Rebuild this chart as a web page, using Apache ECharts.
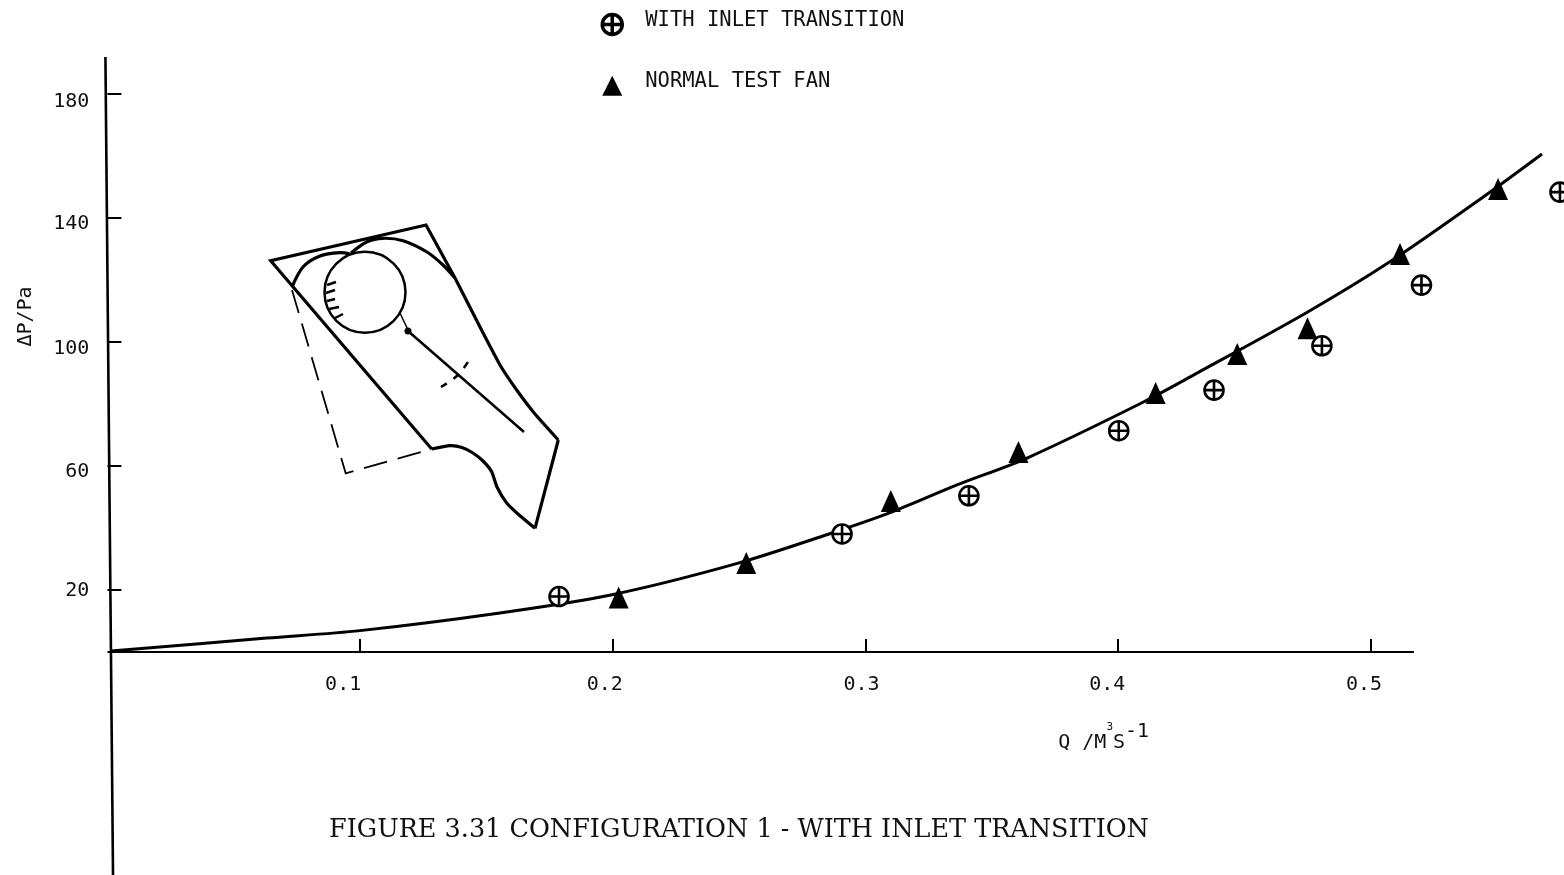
<!DOCTYPE html>
<html><head><meta charset="utf-8">
<style>html,body{margin:0;padding:0;background:#fff}#c{width:1564px;height:875px}</style>
<script src="https://cdn.jsdelivr.net/npm/echarts@6/dist/echarts.min.js"></script>
</head><body><div id="c"></div>
<script>
const xTicks=[0.1,0.2,0.3,0.4,0.5];
const yTicks=[20,60,100,140,180];
const inletQ=[0.1787,0.2907,0.3409,0.4002,0.4379,0.4806,0.5200,0.5748];
const inletP=[17.9,38.1,50.4,71.4,84.5,98.8,118.4,148.4];
const normalQ=[0.2023,0.2528,0.3100,0.3605,0.4148,0.4471,0.4749,0.5115,0.5503];
const normalP=[17.6,28.7,48.7,64.5,83.6,96.2,104.5,128.4,149.4];
const curveQ=[0.0014,0.0631,0.0999,0.1553,0.1992,0.2493,0.2867,0.3108,0.3362,0.3639,0.4098,0.4312,0.4743,0.5075,0.5439,0.5677];
const curveP=[0.3,4.5,6.9,12.6,18.4,28.6,38.4,45.3,53.9,62.6,80.6,90,109.4,125.9,146.5,160.7];
const yAxisQ=[-0.0008,0.0022];
const yAxisP=[192,-72];
const xAxisQ=[0,0.517];
const xAxisP=[0,0];
const seriesNames=['WITH INLET TRANSITION','NORMAL TEST FAN'];
const caption='FIGURE 3.31 CONFIGURATION 1 - WITH INLET TRANSITION';
const zip=(a,b)=>a.map((v,i)=>[v,b[i]]);
const MONO='"DejaVu Sans Mono","Liberation Mono",monospace';
const crossCircle='path://M10 0A10 10 0 1 1 9.99 0ZM0 10L20 10M10 0L10 20';
const xShift={0.1:34,0.2:16,0.3:8,0.4:22,0.5:14};
const yShift={20:2,60:12,100:14,140:12,180:16};
const xRich={},yRich={};
xTicks.forEach((t,i)=>xRich['x'+i]={padding:[0,xShift[t],0,0],fontFamily:MONO,fontSize:20,color:'#111'});
yTicks.forEach((t,i)=>yRich['y'+i]={padding:[yShift[t],0,0,0],fontFamily:MONO,fontSize:20,color:'#111'});
const ink={stroke:'#000',fill:'none',lineWidth:3.2};
const thin={stroke:'#000',fill:'none',lineWidth:2.5};
const pl=(points,style,smooth)=>({type:'polyline',silent:true,shape:{points,smooth:smooth||0},style});
const ln=(x1,y1,x2,y2,style)=>({type:'line',silent:true,shape:{x1,y1,x2,y2},style});
const inset=[
 pl([[455,278],[426,225],[270.7,260.7],[431.7,449]],ink),
 pl([[455,278],[480,327],[500,365],[516.7,390],[535,414],[558.3,440]],ink,0.15),
 pl([[558.3,440],[535,528.3]],ink),
 pl([[535,528.3],[518,514],[506.7,503],[497,487],[491.7,471.7],[483,461],[473,453],[462,447.5],[450,445.7],[431.7,449]],ink,0.2),
 pl([[292,287],[303,267],[320,256],[340,252.7],[350,254]],ink,0.3),
 pl([[351,253],[367,241.7],[383,238.3],[403,240.7],[427,252],[443,265],[455,278]],ink,0.3),
 {type:'circle',silent:true,shape:{cx:365,cy:292.3,r:40.5},style:thin},
 ln(327,285,336,282,thin),
 ln(326,293,335,290,thin),
 ln(327,301,335,299,thin),
 ln(329,309,339,307,thin),
 ln(335,318,343,314,thin),
 ln(400,313,408,330,{stroke:'#000',lineWidth:1.5}),
 {type:'circle',silent:true,shape:{cx:408,cy:331,r:3.5},style:{fill:'#000'}},
 ln(408,331,524,432,thin),
 pl([[441,387],[458,375],[472,356]],{stroke:'#000',fill:'none',lineWidth:2.5,lineDash:[7,8]},0.3),
 pl([[292,290],[345.7,473.3],[431.7,449]],{stroke:'#000',fill:'none',lineWidth:1.8,lineDash:[24,11]})
];
const chart=echarts.init(document.getElementById('c'),null,{renderer:'canvas'});
chart.setOption({
 animation:false,
 backgroundColor:'#fff',
 title:{text:caption,left:324,top:812,textStyle:{fontFamily:'"DejaVu Serif",serif',fontSize:25.5,fontWeight:'normal',color:'#111'}},
 legend:{orient:'vertical',left:595.5,top:5,itemWidth:20,itemHeight:20,itemGap:35,
  formatter:n=>`{t|${n}}`,
  textStyle:{rich:{t:{fontFamily:MONO,fontSize:20.5,color:'#111',padding:[0,0,8,18]}}},
  data:[{name:seriesNames[0],icon:crossCircle,itemStyle:{color:'#fff',opacity:1,borderColor:'#000',borderWidth:3.5}},
        {name:seriesNames[1],icon:'triangle',itemStyle:{color:'#000',opacity:1,borderWidth:0}}]},
 grid:{left:102.4,top:57,width:1461.6,height:595,outerBoundsMode:'none',containLabel:false},
 xAxis:{type:'value',min:-0.002,max:0.5764,splitLine:{show:false},
  axisLine:{show:false},
  axisTick:{show:true,inside:true,length:13,customValues:xTicks,lineStyle:{color:'#000',width:2}},
  axisLabel:{customValues:xTicks,margin:23,hideOverlap:false,formatter:v=>`{x${xTicks.findIndex(t=>Math.abs(t-v)<1e-6)}|${v.toFixed(1)}}`,rich:xRich},
  name:'{a|Q /M}{b|3}{a|S}{c|-1}',nameLocation:'middle',nameGap:70,
  nameTextStyle:{padding:[0,0,0,541],rich:{a:{fontFamily:MONO,fontSize:20,color:'#111'},b:{fontFamily:MONO,fontSize:11,color:'#111',verticalAlign:'top'},c:{fontFamily:MONO,fontSize:20,color:'#111',verticalAlign:'top',padding:[0,0,22,0]}}}},
 yAxis:{type:'value',min:0,max:192,offset:-5,splitLine:{show:false},
  axisLine:{show:false},
  axisTick:{show:true,inside:true,length:14,customValues:yTicks,lineStyle:{color:'#000',width:2}},
  axisLabel:{customValues:yTicks,margin:18,formatter:v=>`{y${yTicks.indexOf(v)}|${v}}`,rich:yRich},
  name:'ΔP/Pa',nameLocation:'middle',nameRotate:90,nameGap:72,
  nameTextStyle:{fontFamily:MONO,fontSize:20,color:'#111',padding:[0,0,0,76]}},
 graphic:inset,
 series:[
  {name:'y axis line',type:'line',data:zip(yAxisQ,yAxisP),symbol:'none',clip:false,silent:true,lineStyle:{color:'#000',width:2.6},z:1},
  {name:'x axis line',type:'line',data:zip(xAxisQ,xAxisP),symbol:'none',clip:false,silent:true,lineStyle:{color:'#000',width:2},z:1},
  {name:'fitted curve',type:'line',data:zip(curveQ,curveP),symbol:'none',smooth:0.3,clip:false,silent:true,lineStyle:{color:'#000',width:3},z:2},
  {name:seriesNames[0],type:'scatter',data:zip(inletQ,inletP),symbol:crossCircle,symbolSize:19,clip:false,itemStyle:{color:'#fff',opacity:1,borderColor:'#000',borderWidth:2.6},z:3},
  {name:seriesNames[1],type:'scatter',data:zip(normalQ,normalP),symbol:'triangle',symbolSize:[20,22],clip:false,itemStyle:{color:'#000',opacity:1},z:4}
 ]
});
</script></body></html>
